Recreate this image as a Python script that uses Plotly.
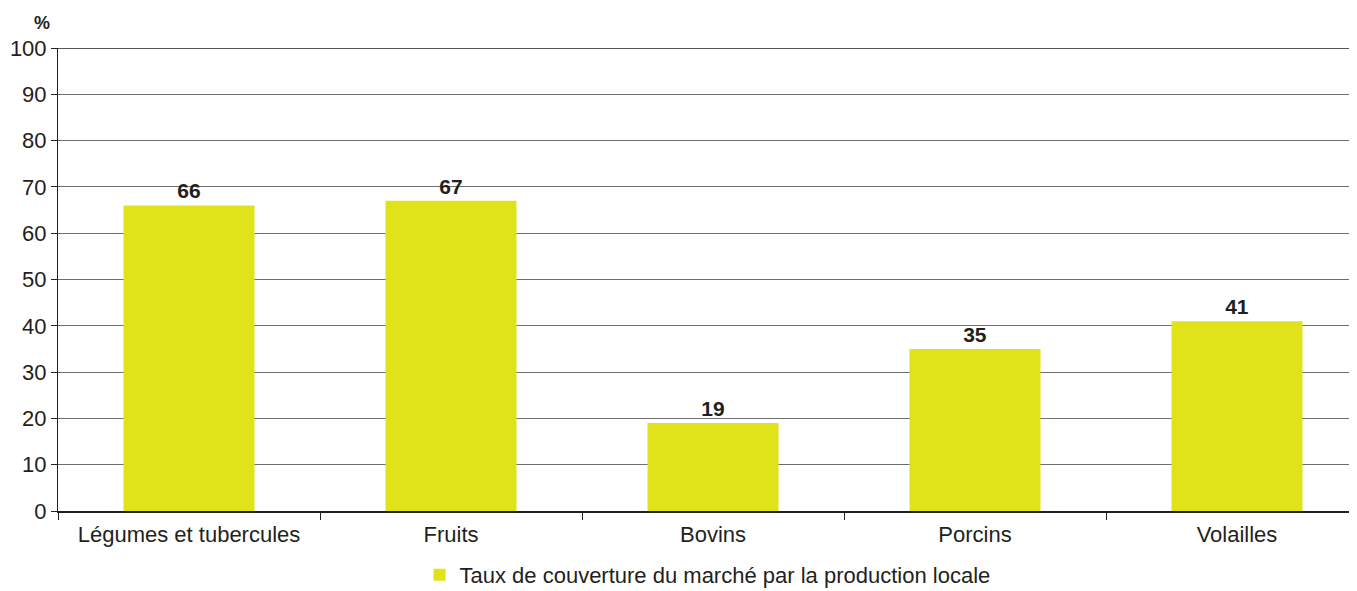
import plotly.graph_objects as go

categories = ["Légumes et tubercules", "Fruits", "Bovins", "Porcins", "Volailles"]
values = [66, 67, 19, 35, 41]
series_name = "Taux de couverture du marché par la production locale"
y_ticks = [0, 10, 20, 30, 40, 50, 60, 70, 80, 90, 100]

font_family = "Liberation Sans, Arial, sans-serif"
dark = "#231f20"
bar_color = "#E0E31A"

x_pos = list(range(len(categories)))

fig = go.Figure()
fig.add_trace(go.Bar(
    x=x_pos,
    y=values,
    name=series_name,
    marker=dict(color=bar_color, line=dict(width=0)),
    width=0.5,
    text=[str(v) for v in values],
    texttemplate="<b>%{text}</b>",
    textposition="outside",
    textfont=dict(family=font_family, size=21, color=dark),
    cliponaxis=False,
    showlegend=True,
))

fig.update_layout(
    width=1349,
    height=583,
    margin=dict(l=50, r=0, t=40, b=80, autoexpand=False),
    paper_bgcolor="white",
    plot_bgcolor="white",
    font=dict(family=font_family, size=22, color=dark),
    bargap=0.5,
    showlegend=True,
    legend=dict(
        orientation="h",
        x=0.5, xanchor="center",
        y=-0.138, yanchor="middle",
        font=dict(family=font_family, size=22, color=dark),
        itemwidth=30,
        bgcolor="rgba(0,0,0,0)",
    ),
    annotations=[dict(
        text="<b>%</b>", xref="paper", yref="paper",
        x=-0.0045, y=1.027, xanchor="right", yanchor="bottom",
        showarrow=False, font=dict(family=font_family, size=18, color=dark),
    )],
)

fig.update_xaxes(
    range=[-0.5, 4.458],
    tickmode="array",
    tickvals=x_pos,
    ticktext=categories,
    ticks="",
    automargin=False,
    ticklabelstandoff=3,
    showgrid=False,
    showline=True,
    linecolor=dark,
    linewidth=2,
    zeroline=False,
    tickfont=dict(family=font_family, size=22, color=dark),
    minor=dict(
        tickmode="array",
        tickvals=[i - 0.5 for i in range(len(categories) + 1)],
        ticks="outside",
        ticklen=7,
        tickcolor=dark,
        tickwidth=1,
        showgrid=False,
    ),
    fixedrange=True,
)

fig.update_yaxes(
    range=[0, 100],
    tickmode="array",
    tickvals=y_ticks,
    ticks="outside",
    ticklen=6,
    tickcolor=dark,
    tickwidth=1,
    automargin=False,
    showgrid=True,
    gridcolor="#6e6e6e",
    gridwidth=1,
    showline=True,
    linecolor=dark,
    linewidth=1,
    zeroline=False,
    tickfont=dict(family=font_family, size=22, color=dark),
    fixedrange=True,
)

# top border line at 100
fig.add_shape(type="line", xref="paper", yref="y", x0=0, x1=1, y0=100, y1=100,
              line=dict(color=dark, width=1.5), layer="above")

fig.write_html("out.html")
